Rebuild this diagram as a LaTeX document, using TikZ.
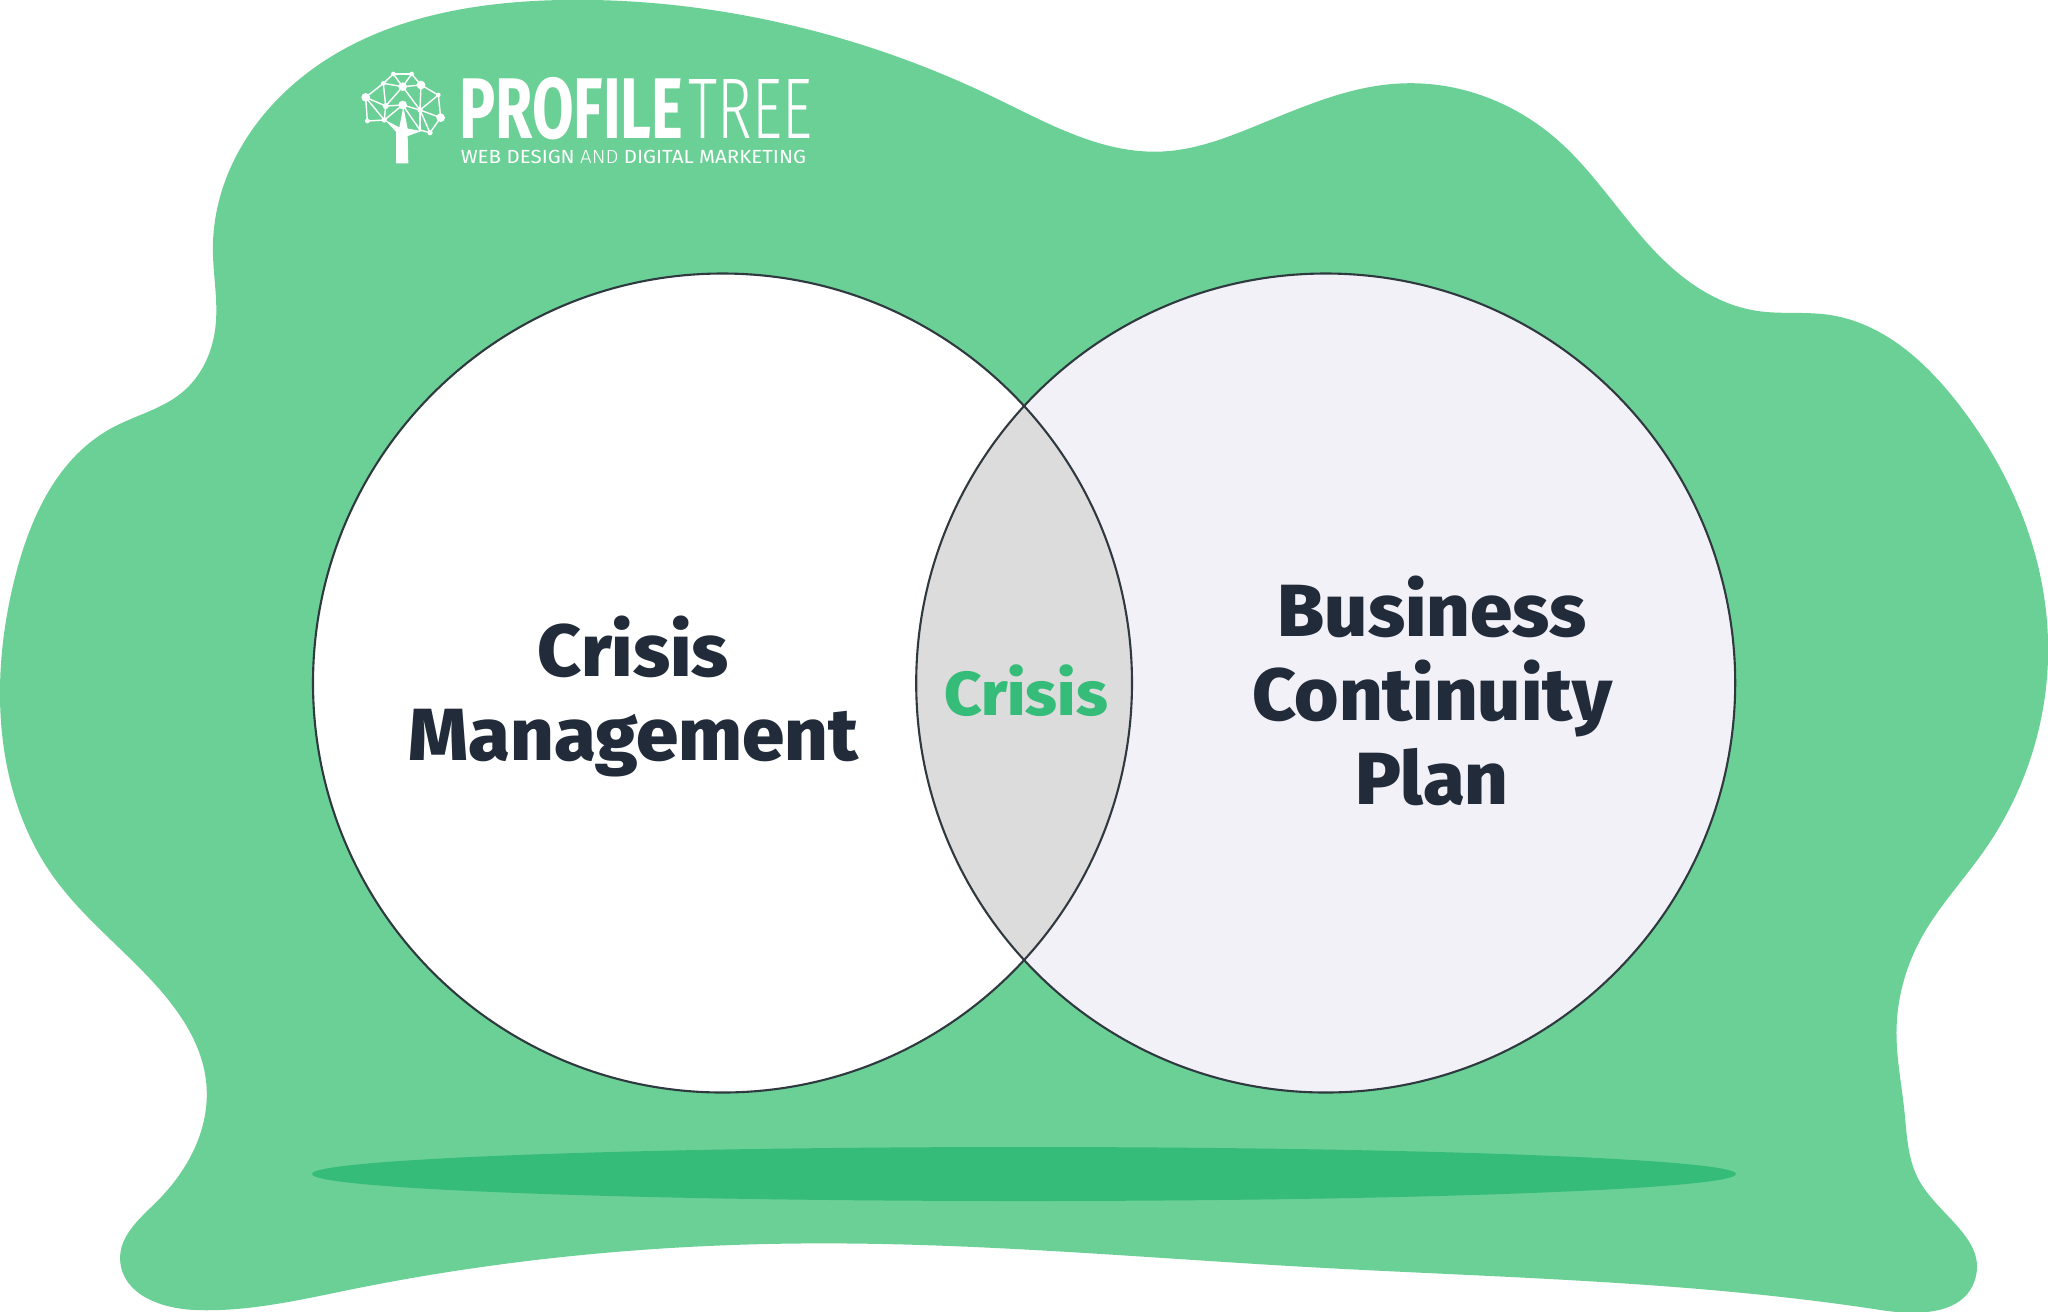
\documentclass[tikz,border=0pt]{standalone}
\usepackage{fontspec}
\setmainfont{Poppins}
\newfontfamily\vennfont{Fira Sans ExtraBold}
\newfontfamily\logofont{Fira Sans}
\newfontfamily\logolight{Fira Sans Light}
\usepackage{xcolor}
\usetikzlibrary{hobby}
\definecolor{blobgreen}{HTML}{6BD096}
\definecolor{shadowgreen}{HTML}{34BC78}
\definecolor{textdark}{HTML}{212B3A}
\definecolor{lensgrey}{HTML}{DCDCDC}
\definecolor{rightfill}{HTML}{F3F1F8}
\definecolor{ringline}{HTML}{2F3A40}
\tikzset{
  ring/.style={draw=ringline, line width=.6pt},
  vennlabel/.style={font=\vennfont\fontsize{21}{23.9}\selectfont, text=textdark, align=center, inner sep=0pt, xscale=1.03, transform shape},
}
\begin{document}
\begin{tikzpicture}[x=.01cm,y=-.01cm]
  \useasboundingbox (0,0) rectangle (2048,1311);
  \fill[white] (0,0) rectangle (2048,1311);

  % Draw the background blob
  \begin{scope}[scale=1.3061]
    \fill[blobgreen, use Hobby shortcut, closed=true]
      (430,0) .. (600,18) .. (760,74) .. (890,116) .. (960,97) .. (1070,64) .. (1190,105)
      .. (1280,205) .. (1345,238) .. (1400,241) .. (1500,310) .. (1568,490) .. (1520,650)
      .. (1470,720) .. (1452,790) .. (1458,850) .. (1470,905) .. (1512,980) .. (1440,1003)
      .. (1000,970) .. (620,952) .. (270,987) .. (150,1003) .. (92,965) .. (120,920)
      .. (158,830) .. (120,755) .. (40,670) .. (0,530) .. (12,440) .. (85,328) .. (140,300)
      .. (165,250) .. (163,190) .. (230,60);
  \end{scope}

  % Draw the shadow
  \fill[shadowgreen] (1024,1174) ellipse [x radius=712, y radius=27];

  % Draw the circles
  \fill[white] (722.5,683) circle [radius=409.5];
  \fill[rightfill] (1325.7,683) circle [radius=409.5];
  \begin{scope}
    \clip (722.5,683) circle [radius=409.5];
    \fill[lensgrey] (1325.7,683) circle [radius=409.5];
  \end{scope}
  \draw[ring] (722.5,683) circle [radius=409.5];
  \draw[ring] (1325.7,683) circle [radius=409.5];

  % Label the circles
  \node[vennlabel] (crisismgmt) at (633.5,696) {Crisis\\Management};
  \node[vennlabel] (continuity) at (1432,691) {Business\\Continuity\\Plan};
  \node[vennlabel, text=shadowgreen, font=\vennfont\fontsize{17.6}{20}\selectfont, xscale=1.02] (crisis) at (1026,691) {Crisis};

  % Draw the logo tree
  \begin{scope}[shift={(340,50)}, scale=1/3]
    \fill[white] (168,340) -- (205,340) -- (203,258) -- (245,243) -- (203,236) -- (190,170)
      -- (178,232) -- (135,210) -- (168,245) -- cycle;
    \foreach \n/\x/\y/\r in {a/160/72/7, b/215/72/7, c/130/100/7, d/188/110/13, e/243/105/13,
      f/77/142/13, g/295/135/7, h/137/168/9, i/188/165/13, j/240/180/8, k/302/203/13,
      l/82/213/7, m/133/210/8, n/240/240/5, o/270/248/8} {
      \coordinate (\n) at (\x,\y);
      \fill[white] (\n) circle [radius=\r];
    }
    \foreach \a/\b in {a/b, a/c, a/d, b/d, b/e, c/d, c/f, c/h, d/e, d/j, e/g, e/j, f/h, f/l, f/m,
      g/k, g/j, h/i, h/m, h/d, i/j, i/n, j/k, j/o, k/o, l/m, n/o, m/i, j/n} {
      \draw[white, line width=.4pt] (\a) -- (\b);
    }
  \end{scope}

  % Label the logo
  \node[anchor=base west, inner sep=0pt, text=white, font=\logofont\bfseries\fontsize{24.5}{24.5}\selectfont, xscale=.7, transform shape] (logoprofile) at (459,138) {PROFILE};
  \node[anchor=base west, inner sep=0pt, text=white, font=\logolight\fontsize{24.5}{24.5}\selectfont, xscale=.68, transform shape] (logotree) at (688,138) {TREE};
  \node[anchor=base west, inner sep=0pt, text=white, font=\logofont\fontsize{5.4}{6}\selectfont, xscale=1.08, transform shape] (logotag) at (460,163) {WEB DESIGN {\logolight AND} DIGITAL MARKETING};
\end{tikzpicture}
\end{document}
